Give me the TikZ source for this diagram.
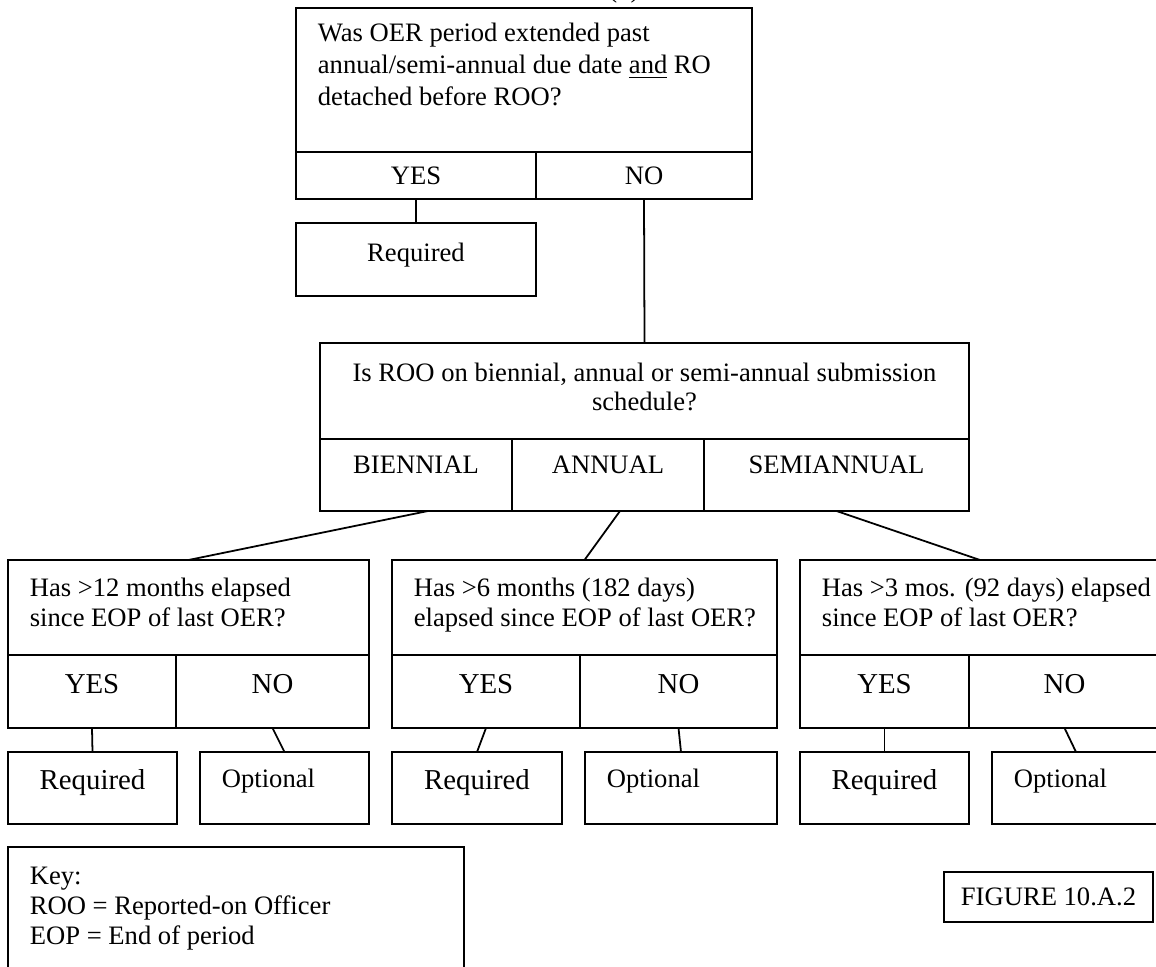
\documentclass[tikz,border=0pt]{standalone}
\usepackage{fontspec}
\setmainfont{Liberation Serif}
\usetikzlibrary{calc}
\newcommand\pbox[5]{\node[bx, anchor=north west, minimum width={(#4-#2)*0.451pt}, minimum height={(#5-#3)*0.451pt}] (#1) at (#2,#3) {};}
\begin{document}
\begin{tikzpicture}[x=0.451pt, y=-0.451pt, line width=0.8pt,
  bx/.style={draw, rectangle, inner sep=0pt, outer sep=0pt},
  lbl/.style={inner sep=0pt, font=\fontsize{12}{13.8}\selectfont},
  lblb/.style={inner sep=0pt, font=\fontsize{13}{15}\selectfont},
  conn/.style={draw, line width=0.8pt}]
\useasboundingbox (0,0) rectangle (1156,966);
% cut-off heading
\node[lbl, anchor=base] (head) at (624,-2) {(b)};
% top question
\pbox{T}{296}{8}{752}{152}
\pbox{Ty}{296}{152}{536}{199}
\pbox{Tn}{536}{152}{752}{199}
\pbox{R0}{296}{223}{536}{296}
\node[lbl, anchor=base west] (t1) at (317,42) {Was OER period extended past};
\node[lbl, anchor=base west] (t2) at (317,74) {annual/semi-annual due date \underline{and} RO};
\node[lbl, anchor=base west] (t3) at (317,106) {detached before ROO?};
\node[lbl, anchor=base] (tyes) at (416,185) {YES};
\node[lbl, anchor=base] (tno) at (644,185) {NO};
\node[lbl, anchor=base] (tr0) at (416,261) {Required};
% middle question
\pbox{M}{320}{343}{969}{439}
\pbox{Mb}{320}{439}{512}{511}
\pbox{Ma}{512}{439}{704}{511}
\pbox{Ms}{704}{439}{969}{511}
\node[lbl, anchor=base] (m1) at (644.5,381) {Is ROO on biennial, annual or semi-annual submission};
\node[lbl, anchor=base] (m2) at (644.5,410) {schedule?};
\node[lbl, anchor=base] (mb) at (416,473) {BIENNIAL};
\node[lbl, anchor=base] (ma) at (608,473) {ANNUAL};
\node[lbl, anchor=base] (ms) at (836.5,473) {SEMIANNUAL};
% third-level questions
\pbox{Q1}{8}{560}{369}{655}
\pbox{Q1y}{8}{655}{176}{728}
\pbox{Q1n}{176}{655}{369}{728}
\pbox{Q2}{392}{560}{777}{655}
\pbox{Q2y}{392}{655}{580}{728}
\pbox{Q2n}{580}{655}{777}{728}
\pbox{Q3}{800}{560}{1160}{655}
\pbox{Q3y}{800}{655}{969}{728}
\pbox{Q3n}{969}{655}{1160}{728}
\node[lbl, anchor=base west] (q1a) at (29,596) {Has >12 months elapsed};
\node[lbl, anchor=base west] (q1b) at (29,626) {since EOP of last OER?};
\node[lbl, anchor=base west] (q2a) at (413,596) {Has >6 months (182 days)};
\node[lbl, anchor=base west] (q2b) at (413,626) {elapsed since EOP of last OER?};
\node[lbl, anchor=base west] (q3a) at (821,596) {Has >3 mos. (92 days) elapsed};
\node[lbl, anchor=base west] (q3b) at (821,626) {since EOP of last OER?};
\node[lblb, anchor=base] (y1) at (92,693) {YES};
\node[lblb, anchor=base] (n1) at (272.5,693) {NO};
\node[lblb, anchor=base] (y2) at (486,693) {YES};
\node[lblb, anchor=base] (n2) at (678.5,693) {NO};
\node[lblb, anchor=base] (y3) at (884.5,693) {YES};
\node[lblb, anchor=base] (n3) at (1064.5,693) {NO};
% outcomes
\pbox{R1}{8}{752}{177}{824}
\pbox{O1}{200}{752}{369}{824}
\pbox{R2}{392}{752}{562}{824}
\pbox{O2}{585}{752}{777}{824}
\pbox{R3}{800}{752}{969}{824}
\pbox{O3}{992}{752}{1160}{824}
\node[lblb, anchor=base] (r1) at (92.5,789) {Required};
\node[lblb, anchor=base] (r2) at (477,789) {Required};
\node[lblb, anchor=base] (r3) at (884.5,789) {Required};
\node[lbl, anchor=base west] (o1) at (221,787) {Optional};
\node[lbl, anchor=base west] (o2) at (606,787) {Optional};
\node[lbl, anchor=base west] (o3) at (1013,787) {Optional};
% key and figure label
\pbox{K}{8}{847}{464}{975}
\node[lbl, anchor=base west] (k1) at (29,884) {Key:};
\node[lbl, anchor=base west] (k2) at (29,914) {ROO = Reported-on Officer};
\node[lbl, anchor=base west] (k3) at (29,944) {EOP = End of period};
\pbox{F}{944}{872}{1153}{922}
\node[lbl, anchor=base] (f1) at (1048.5,905) {FIGURE 10.A.2};
% connectors
\draw[conn] (Ty.south) -- (R0.north);
\draw[conn] (Tn.south) -- (M.north);
\draw[conn] ([xshift=12*0.451pt]Mb.south) -- (Q1.north);
\draw[conn] ([xshift=12*0.451pt]Ma.south) -- (Q2.north);
\draw[conn] (Ms.south) -- (Q3.north);
\draw[conn] (Q1y.south) -- (R1.north);
\draw[conn] (Q1n.south) -- (O1.north);
\draw[conn] (Q2y.south) -- (R2.north);
\draw[conn] (Q2n.south) -- (O2.north);
\draw[conn] (Q3y.south) -- (R3.north);
\draw[conn] (Q3n.south) -- (O3.north);
\end{tikzpicture}
\end{document}
